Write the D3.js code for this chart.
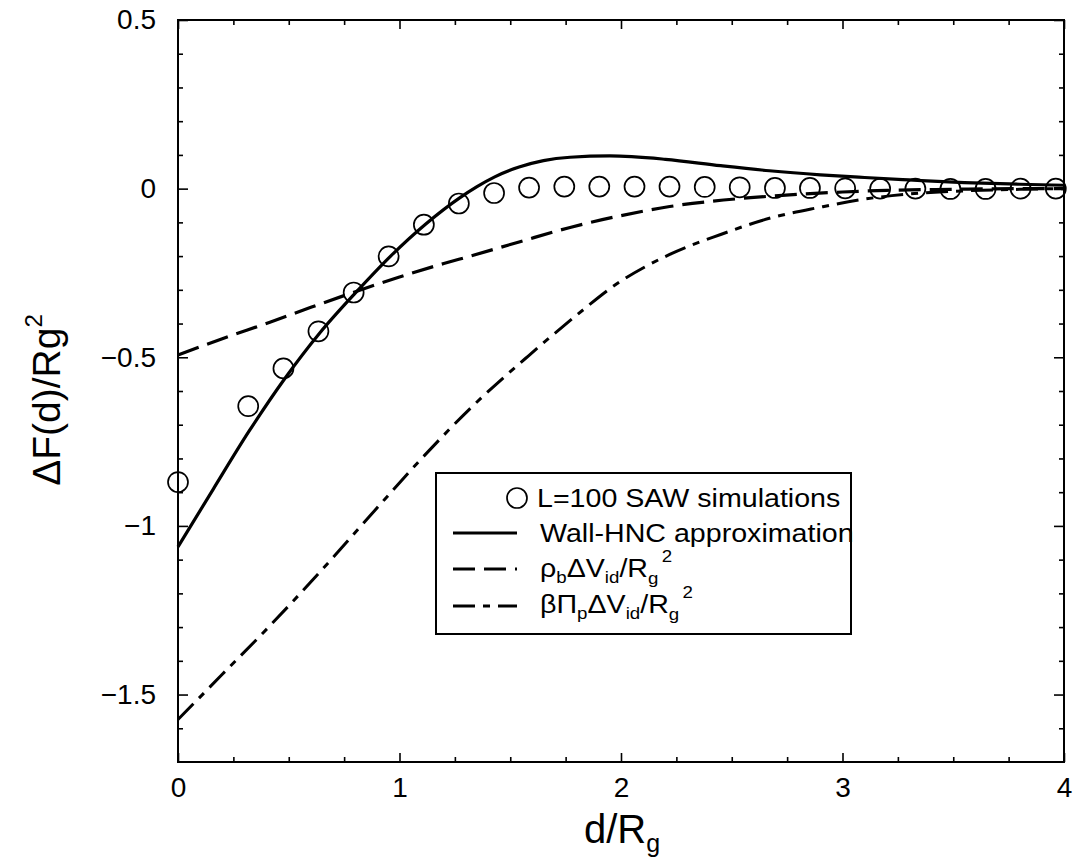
<!DOCTYPE html>
<html><head><meta charset="utf-8">
<script src="https://cdn.jsdelivr.net/npm/d3@7"></script>
<style>
body{margin:0;background:#fff}
svg{display:block}
text{font-family:"Liberation Sans",Arial,Helvetica,sans-serif;fill:#000}
</style>
</head><body>
<svg id="chart" width="1074" height="859"></svg>
<script>
// ---- data ----
const simD = [0, 0.317, 0.476, 0.634, 0.793, 0.951, 1.110, 1.268, 1.427, 1.585, 1.744, 1.902, 2.061, 2.219, 2.378, 2.536, 2.695, 2.853, 3.012, 3.170, 3.329, 3.487, 3.646, 3.804, 3.963];
const simY = [-0.870, -0.645, -0.533, -0.423, -0.308, -0.201, -0.107, -0.044, -0.013, 0.003, 0.006, 0.006, 0.006, 0.006, 0.005, 0.004, 0.002, 0.002, 0.001, 0.000, 0.000, -0.001, -0.001, 0.000, 0.000];

const hncD = [0, 0.16, 0.32, 0.48, 0.64, 0.80, 0.96, 1.12, 1.27, 1.35, 1.43, 1.54, 1.65, 1.77, 1.95, 2.2, 2.45, 2.67, 2.9, 3.1, 3.3, 3.55, 3.8, 4.0];
const hncY = [-1.062, -0.890, -0.720, -0.565, -0.428, -0.310, -0.200, -0.104, -0.028, 0.006, 0.035, 0.064, 0.083, 0.093, 0.097, 0.087, 0.068, 0.053, 0.041, 0.033, 0.026, 0.018, 0.013, 0.010];

const rhoD = [0, 0.2, 0.415, 0.6, 0.79, 1.0, 1.2, 1.32, 1.54, 1.77, 2.0, 2.22, 2.4, 2.6, 2.8, 3.0, 3.2, 3.5, 3.8, 4.0];
const rhoY = [-0.493, -0.445, -0.396, -0.352, -0.308, -0.262, -0.222, -0.200, -0.158, -0.115, -0.080, -0.053, -0.038, -0.026, -0.017, -0.010, -0.005, -0.002, 0, 0];

const piD = [0, 0.2, 0.415, 0.65, 0.867, 1.1, 1.33, 1.58, 1.8, 1.964, 2.22, 2.45, 2.67, 2.9, 3.08, 3.3, 3.5, 3.8, 4.0];
const piY = [-1.574, -1.440, -1.296, -1.130, -0.970, -0.800, -0.645, -0.497, -0.375, -0.290, -0.195, -0.136, -0.088, -0.055, -0.033, -0.016, -0.008, -0.002, 0];

const xMajor = [0, 1, 2, 3, 4];
const xMinor = [0.25, 0.5, 0.75, 1.25, 1.5, 1.75, 2.25, 2.5, 2.75, 3.25, 3.5, 3.75];
const yMajor = [0.5, 0, -0.5, -1, -1.5];
const yMinor = [0.4, 0.3, 0.2, 0.1, -0.1, -0.2, -0.3, -0.4, -0.6, -0.7, -0.8, -0.9, -1.1, -1.2, -1.3, -1.4, -1.6];
const yTickLabels = ["0.5", "0", "\u22120.5", "\u22121", "\u22121.5"];

// ---- drawing ----
const svg = d3.select("#chart");
const L = 178, R = 1064, T = 20, B = 762;
const x = d3.scaleLinear().domain([0, 4]).range([L, R]);
const y = d3.scaleLinear().domain([-1.7, 0.5]).range([B, T]);

function styleAxis(g) {
  g.select(".domain").remove();
  g.selectAll("line").attr("stroke", "#000").attr("stroke-width", 1.6);
}
// bottom
svg.append("g").attr("transform", `translate(0,${B})`)
  .call(d3.axisBottom(x).tickValues(xMinor).tickSize(-5).tickFormat("")).call(styleAxis);
svg.append("g").attr("transform", `translate(0,${B})`)
  .call(d3.axisBottom(x).tickValues(xMajor).tickSize(-9).tickSizeOuter(0).tickPadding(15).tickFormat(d3.format("d")))
  .call(styleAxis)
  .call(g => g.selectAll("text").attr("font-size", 28).attr("font-family", "Liberation Sans, Arial, sans-serif"));
// top
svg.append("g").attr("transform", `translate(0,${T})`)
  .call(d3.axisTop(x).tickValues(xMinor).tickSize(-5).tickFormat("")).call(styleAxis);
svg.append("g").attr("transform", `translate(0,${T})`)
  .call(d3.axisTop(x).tickValues(xMajor).tickSize(-9).tickFormat("")).call(styleAxis);
// left
svg.append("g").attr("transform", `translate(${L},0)`)
  .call(d3.axisLeft(y).tickValues(yMinor).tickSize(-5).tickFormat("")).call(styleAxis);
svg.append("g").attr("transform", `translate(${L},0)`)
  .call(d3.axisLeft(y).tickValues(yMajor).tickSize(-10).tickPadding(22).tickFormat((d, i) => yTickLabels[i]))
  .call(styleAxis)
  .call(g => g.selectAll("text").attr("font-size", 28).attr("font-family", "Liberation Sans, Arial, sans-serif"));
// right
svg.append("g").attr("transform", `translate(${R},0)`)
  .call(d3.axisRight(y).tickValues(yMinor).tickSize(-5).tickFormat("")).call(styleAxis);
svg.append("g").attr("transform", `translate(${R},0)`)
  .call(d3.axisRight(y).tickValues(yMajor).tickSize(-10).tickFormat("")).call(styleAxis);

// frame
svg.append("rect").attr("x", L).attr("y", T).attr("width", R - L).attr("height", B - T)
  .attr("fill", "none").attr("stroke", "#000").attr("stroke-width", 2);

// curves
const line = d3.line().x(d => x(d[0])).y(d => y(d[1])).curve(d3.curveMonotoneX);
svg.append("path").datum(d3.zip(piD, piY)).attr("d", line)
  .attr("fill", "none").attr("stroke", "#000").attr("stroke-width", 3).attr("stroke-dasharray", "22,8,7,8");
svg.append("path").datum(d3.zip(rhoD, rhoY)).attr("d", line)
  .attr("fill", "none").attr("stroke", "#000").attr("stroke-width", 3.2).attr("stroke-dasharray", "22,9");
svg.append("path").datum(d3.zip(hncD, hncY)).attr("d", line)
  .attr("fill", "none").attr("stroke", "#000").attr("stroke-width", 3.2);

// circles
svg.append("g").selectAll("circle").data(d3.zip(simD, simY)).join("circle")
  .attr("cx", d => x(d[0])).attr("cy", d => y(d[1])).attr("r", 10)
  .attr("fill", "none").attr("stroke", "#000").attr("stroke-width", 1.7);

// legend
const lg = svg.append("g");
lg.append("rect").attr("x", 436).attr("y", 473).attr("width", 415).attr("height", 161)
  .attr("fill", "#fff").attr("stroke", "#000").attr("stroke-width", 2);
lg.append("circle").attr("cx", 517).attr("cy", 498).attr("r", 10)
  .attr("fill", "none").attr("stroke", "#000").attr("stroke-width", 1.7);
lg.append("line").attr("x1", 453).attr("x2", 517).attr("y1", 533).attr("y2", 533)
  .attr("stroke", "#000").attr("stroke-width", 3.2);
lg.append("line").attr("x1", 453).attr("x2", 517).attr("y1", 569).attr("y2", 569)
  .attr("stroke", "#000").attr("stroke-width", 3.2).attr("stroke-dasharray", "22,9");
lg.append("line").attr("x1", 453).attr("x2", 517).attr("y1", 606).attr("y2", 606)
  .attr("stroke", "#000").attr("stroke-width", 3).attr("stroke-dasharray", "22,8,7,8");

function ltext(xx, yy) {
  return lg.append("g").attr("transform", `translate(${xx},${yy}) scale(1.1,1)`)
    .append("text").attr("font-size", 26);
}
ltext(537, 507).text("L=100 SAW simulations");
ltext(540, 542).text("Wall-HNC approximation");
const t3 = ltext(540, 577);
t3.append("tspan").text("\u03c1");
t3.append("tspan").attr("dy", 6).attr("font-size", 17).text("b");
t3.append("tspan").attr("dy", -6).text("\u0394V");
t3.append("tspan").attr("dy", 6).attr("font-size", 17).text("id");
t3.append("tspan").attr("dy", -6).text("/R");
t3.append("tspan").attr("dy", 7).attr("font-size", 17).text("g");
t3.append("tspan").attr("dy", -22).attr("dx", 3).attr("font-size", 17).text("2");
const t4 = ltext(540, 613);
t4.append("tspan").text("\u03b2\u03a0");
t4.append("tspan").attr("dy", 6).attr("font-size", 17).text("p");
t4.append("tspan").attr("dy", -6).text("\u0394V");
t4.append("tspan").attr("dy", 6).attr("font-size", 17).text("id");
t4.append("tspan").attr("dy", -6).text("/R");
t4.append("tspan").attr("dy", 7).attr("font-size", 17).text("g");
t4.append("tspan").attr("dy", -22).attr("dx", 3).attr("font-size", 17).text("2");

// axis titles
const yt = svg.append("text").attr("transform", "translate(60,400) rotate(-90)")
  .attr("text-anchor", "middle").attr("font-size", 39);
yt.append("tspan").text("\u0394F(d)/Rg");
yt.append("tspan").attr("dy", -18).attr("font-size", 24).text("2");

const xt = svg.append("text").attr("x", 622).attr("y", 843)
  .attr("text-anchor", "middle").attr("font-size", 40);
xt.append("tspan").text("d/R");
xt.append("tspan").attr("dy", 9).attr("font-size", 25).text("g");
</script>
</body></html>
